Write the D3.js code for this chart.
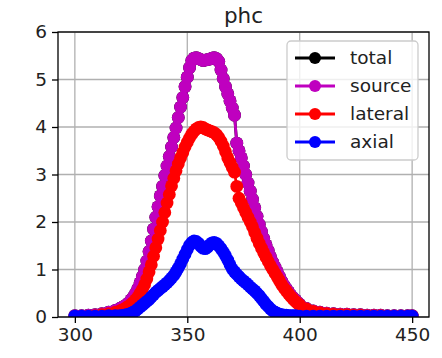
<!DOCTYPE html>
<html>
<head>
<meta charset="utf-8">
<script src="https://cdn.jsdelivr.net/npm/d3@7"></script>
<style>
  body { margin: 0; background: #fff; }
  svg { display: block; font-family: "DejaVu Sans", sans-serif; }
</style>
</head>
<body>
<svg id="chart" width="442" height="358"></svg>
<script>
let xs = [300, 303, 306, 309, 312, 315, 318,
    320, 321, 322, 323, 324, 325, 326, 327, 328, 329,
    330, 331, 332, 333, 334, 335, 336, 337, 338, 339,
    340, 341, 342, 343, 344, 345, 346, 347, 348, 349,
    350, 351, 352, 353, 354, 355, 356, 357, 358, 359,
    360, 361, 362, 363, 364, 365, 366, 367, 368, 369,
    370, 371, 372, 373, 374, 375, 376, 377, 378, 379,
    380, 381, 382, 383, 384, 385, 386, 387, 388, 389,
    390, 391, 392, 393, 394, 395, 396, 397, 398, 399,
    400,
    403, 406, 409, 412, 415, 418, 421, 424, 427, 430, 433, 436, 439, 442, 445, 448, 450];

let sourceVals = [0.03, 0.03, 0.04, 0.05, 0.07, 0.1, 0.14,
    0.18, 0.2, 0.23, 0.26, 0.3, 0.36, 0.42, 0.5, 0.6, 0.72,
    0.85, 1.0, 1.18, 1.38, 1.6, 1.85, 2.1, 2.32, 2.55, 2.75,
    2.98, 3.18, 3.38, 3.58, 3.78, 3.98, 4.2, 4.42, 4.62, 4.85,
    5.05, 5.25, 5.4, 5.45, 5.46, 5.44, 5.42, 5.4, 5.41, 5.42,
    5.43, 5.45, 5.46, 5.44, 5.38, 5.2, 5.02, 4.85, 4.7, 4.55,
    4.4, 4.25, 3.66, 3.5, 3.35, 3.18, 3.0, 2.82, 2.65, 2.48,
    2.3, 2.12, 1.95, 1.8, 1.65, 1.52, 1.4, 1.27, 1.15, 1.05,
    0.95, 0.85, 0.75, 0.67, 0.6, 0.53, 0.46, 0.41, 0.36, 0.31,
    0.27,
    0.18, 0.13, 0.1, 0.08, 0.07, 0.06, 0.06, 0.05, 0.05, 0.04, 0.04, 0.04, 0.03, 0.03, 0.03, 0.03, 0.03];

// total sits right under source in the picture
let totalVals = sourceVals;

let lateralVals = [0.01, 0.01, 0.02, 0.03, 0.05, 0.07, 0.1,
    0.13, 0.15, 0.17, 0.2, 0.23, 0.27, 0.31, 0.36, 0.42, 0.5,
    0.58, 0.68, 0.8, 0.95, 1.1, 1.28, 1.46, 1.64, 1.82, 2.0,
    2.2, 2.4, 2.58, 2.76, 2.92, 3.08, 3.22, 3.35, 3.46, 3.58,
    3.68, 3.77, 3.85, 3.91, 3.96, 3.99, 4.0, 3.99, 3.96, 3.94,
    3.92, 3.9, 3.88, 3.84, 3.78, 3.7, 3.6, 3.48, 3.35, 3.25,
    3.15, 3.05, 2.75, 2.5, 2.4, 2.3, 2.2, 2.1, 2.0, 1.9,
    1.78, 1.66, 1.55, 1.45, 1.35, 1.26, 1.17, 1.08, 1.0, 0.92,
    0.84, 0.76, 0.68, 0.61, 0.55, 0.49, 0.43, 0.38, 0.33, 0.29,
    0.25,
    0.17, 0.12, 0.09, 0.07, 0.06, 0.05, 0.05, 0.04, 0.04, 0.03, 0.03, 0.03, 0.02, 0.02, 0.02, 0.02, 0.02];

let axialVals = [0.02, 0.02, 0.02, 0.02, 0.02, 0.03, 0.03,
    0.03, 0.03, 0.04, 0.05, 0.06, 0.08, 0.1, 0.13, 0.17, 0.21,
    0.25, 0.29, 0.33, 0.37, 0.42, 0.47, 0.52, 0.56, 0.6, 0.64,
    0.68, 0.72, 0.77, 0.82, 0.88, 0.95, 1.03, 1.12, 1.22, 1.32,
    1.42, 1.51, 1.57, 1.6, 1.59, 1.55, 1.49, 1.45, 1.44, 1.47,
    1.52, 1.56, 1.57, 1.55, 1.5, 1.44, 1.37, 1.29, 1.2, 1.1,
    1.01, 0.95, 0.9, 0.85, 0.8, 0.76, 0.72, 0.68, 0.63, 0.59,
    0.55, 0.5, 0.45, 0.39, 0.33, 0.27, 0.22, 0.17, 0.13, 0.1,
    0.08, 0.06, 0.05, 0.04, 0.04, 0.03, 0.03, 0.03, 0.03, 0.02,
    0.02,
    0.02, 0.02, 0.02, 0.02, 0.02, 0.02, 0.02, 0.02, 0.02, 0.02, 0.02, 0.02, 0.02, 0.02, 0.02, 0.02, 0.02];

let seriesNames = ["total", "source", "lateral", "axial"];
let seriesColors = ["#000000", "#bf00bf", "#ff0000", "#0000ff"];
let xTicks = [300, 350, 400, 450];
let yTicks = [0, 1, 2, 3, 4, 5, 6];

let svg = d3.select("#chart"),
    margin = {top: 32, right: 13, bottom: 41, left: 58},
    width = 442 - margin.left - margin.right,
    height = 358 - margin.top - margin.bottom,
    g = svg.append("g").attr("transform", "translate(" + margin.left + "," + margin.top + ")");

let fontSize = 18.5;
let markR = 6.4;

let scaleX = d3.scaleLinear().domain([292.5, 457.5]).range([0, width]);
let scaleY = d3.scaleLinear().domain([0, 6]).range([height, 0]);

// grid
g.append("g").selectAll("line").data(xTicks).enter().append("line")
    .attr("x1", d => scaleX(d)).attr("x2", d => scaleX(d))
    .attr("y1", 0).attr("y2", height)
    .attr("stroke", "#b0b0b0").attr("stroke-width", 1.3);
g.append("g").selectAll("line").data(yTicks).enter().append("line")
    .attr("y1", d => scaleY(d)).attr("y2", d => scaleY(d))
    .attr("x1", 0).attr("x2", width)
    .attr("stroke", "#b0b0b0").attr("stroke-width", 1.3);

svg.append("defs").append("clipPath").attr("id", "clip")
    .append("rect").attr("width", width).attr("height", height);

let allVals = [totalVals, sourceVals, lateralVals, axialVals];
let line = d3.line().x(d => scaleX(d[0])).y(d => scaleY(d[1]));

let plot = g.append("g").attr("clip-path", "url(#clip)");
allVals.forEach((vals, i) => {
    let pts = xs.map((x, j) => [x, vals[j]]);
    let sg = plot.append("g");
    sg.append("path")
        .datum(pts)
        .attr("d", line)
        .attr("fill", "none")
        .attr("stroke", seriesColors[i])
        .attr("stroke-width", 2.8);
    sg.selectAll("circle").data(pts).enter().append("circle")
        .attr("cx", d => scaleX(d[0]))
        .attr("cy", d => scaleY(d[1]))
        .attr("r", markR)
        .attr("fill", seriesColors[i]);
});

// axes
let xAxis = g.append("g")
    .attr("transform", "translate(0," + height + ")")
    .call(d3.axisBottom(scaleX).tickValues(xTicks).tickFormat(d3.format("d"))
        .tickSize(6).tickPadding(5).tickSizeOuter(0));
let yAxis = g.append("g")
    .call(d3.axisLeft(scaleY).tickValues(yTicks).tickFormat(d3.format("d"))
        .tickSize(6).tickPadding(5).tickSizeOuter(0));

[xAxis, yAxis].forEach(ax => {
    ax.select(".domain").remove();
    ax.selectAll("line").attr("stroke", "#000").attr("stroke-width", 1.3);
    ax.selectAll("text").attr("fill", "#222").style("font-size", fontSize + "px")
        .style("font-family", "DejaVu Sans");
});

g.append("rect")
    .attr("width", width).attr("height", height)
    .attr("fill", "none").attr("stroke", "#000").attr("stroke-width", 1.3);

// title
svg.append("text")
    .attr("x", margin.left + width / 2)
    .attr("y", 23)
    .attr("text-anchor", "middle")
    .style("font-size", "21.5px")
    .attr("fill", "#222")
    .text("phc");

// legend
let legend = svg.append("g").attr("transform", "translate(287,41)");
legend.append("rect")
    .attr("width", 131).attr("height", 119)
    .attr("rx", 4)
    .attr("fill", "#fff").attr("fill-opacity", 0.8)
    .attr("stroke", "#cccccc").attr("stroke-width", 1.3);

seriesNames.forEach((name, i) => {
    let ry = 17 + i * 28;
    legend.append("line")
        .attr("x1", 8).attr("x2", 48)
        .attr("y1", ry).attr("y2", ry)
        .attr("stroke", seriesColors[i]).attr("stroke-width", 2.8);
    legend.append("circle")
        .attr("cx", 28).attr("cy", ry).attr("r", 6)
        .attr("fill", seriesColors[i]);
    legend.append("text")
        .attr("x", 63).attr("y", ry)
        .attr("dy", "0.35em")
        .style("font-size", fontSize + "px")
        .attr("fill", "#222")
        .text(name);
});
</script>
</body>
</html>
